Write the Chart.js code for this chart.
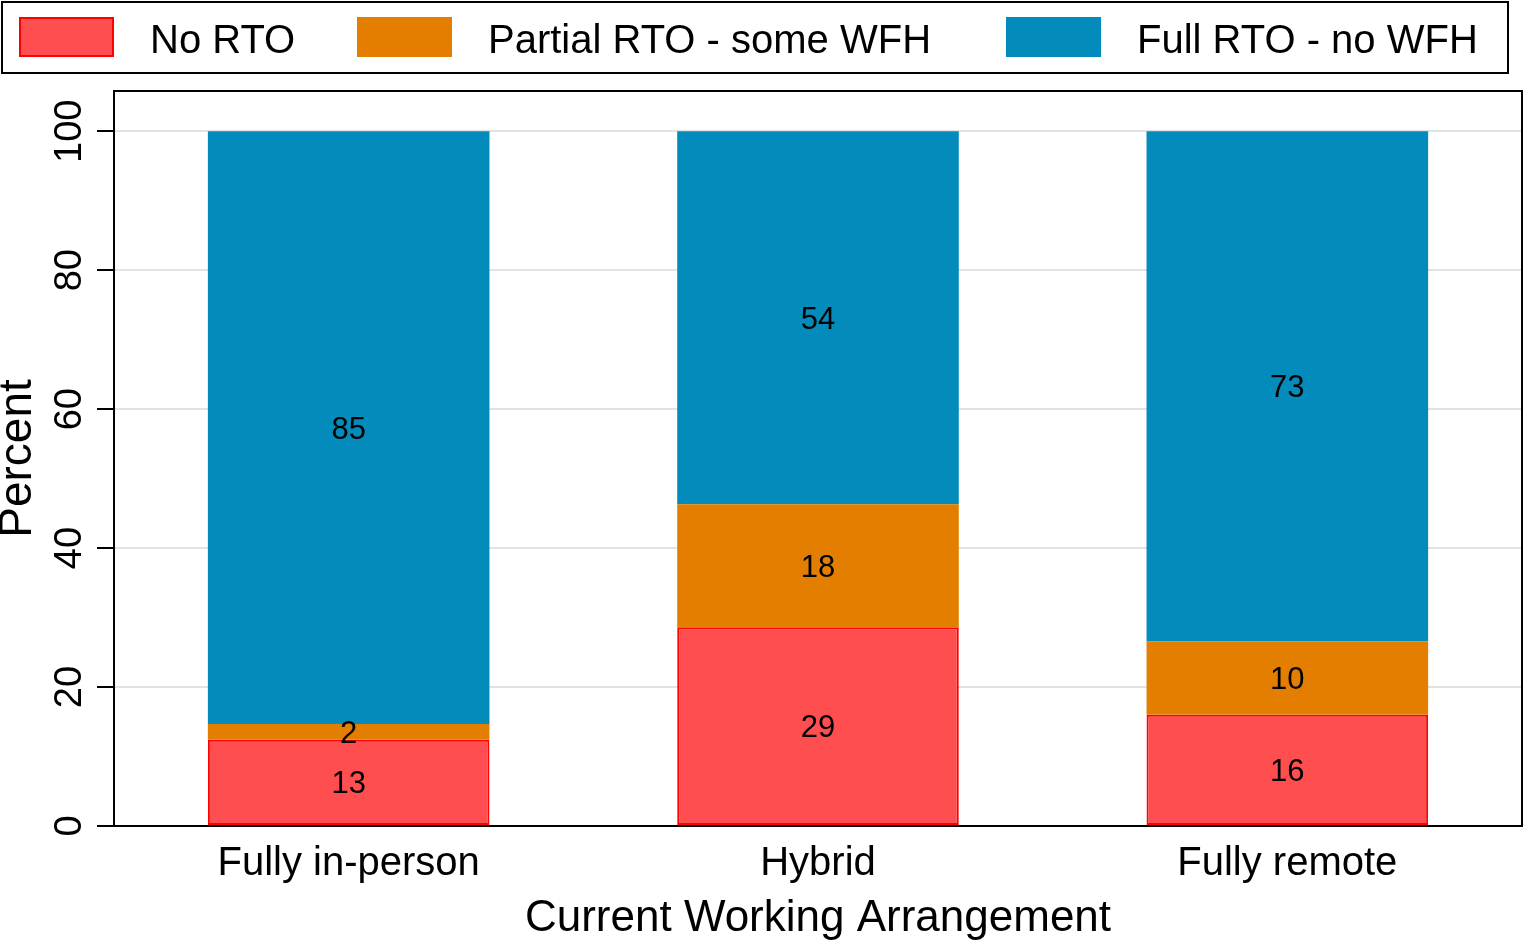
<!DOCTYPE html>
<html>
<head>
<meta charset="utf-8">
<script src="https://cdn.jsdelivr.net/npm/chart.js@4.4.1/dist/chart.umd.min.js"></script>
<style>
  html, body { margin: 0; padding: 0; background: #fff; }
  #wrap { width: 1524px; height: 943px; }
</style>
</head>
<body>
<div id="wrap"><canvas id="chart"></canvas></div>
<script>
const categories = ['Fully in-person', 'Hybrid', 'Fully remote'];
const seriesNames = ['No RTO', 'Partial RTO - some WFH', 'Full RTO - no WFH'];
const noRto = [12.4, 28.6, 16.0];
const partialRto = [2.3, 17.7, 10.6];
const fullRto = [85.3, 53.7, 73.4];
const noRtoLabels = ['13', '29', '16'];
const partialRtoLabels = ['2', '18', '10'];
const fullRtoLabels = ['85', '54', '73'];
const yTicks = [0, 20, 40, 60, 80, 100];

const FONT = '"Liberation Sans", Arial, Helvetica, sans-serif';

// legend drawn as a boxed row above the plot
const legendBox = {
    id: 'legendBox',
    afterDraw(chart) {
        const ctx = chart.ctx;
        const starts = [19, 357, 1006];
        ctx.save();
        ctx.strokeStyle = '#000';
        ctx.lineWidth = 2;
        ctx.strokeRect(2, 2, 1506, 71);
        ctx.font = '40px ' + FONT;
        ctx.textBaseline = 'alphabetic';
        ctx.fillStyle = '#000';
        chart.data.datasets.forEach((ds, i) => {
            const x = starts[i];
            ctx.fillStyle = ds.backgroundColor;
            ctx.fillRect(x, 17, 95, 40);
            if (ds.borderWidth) {
                ctx.strokeStyle = ds.borderColor;
                ctx.lineWidth = 2;
                ctx.strokeRect(x + 1, 18, 93, 38);
            }
            ctx.fillStyle = '#000';
            ctx.fillText(ds.label, x + 131, 53);
        });
        ctx.restore();
    }
};

// y tick labels rotated, frame around plot, values in bars
const extras = {
    id: 'extras',
    afterDatasetsDraw(chart) {
        const ctx = chart.ctx;
        const area = chart.chartArea;
        const y = chart.scales.y;
        ctx.save();
        ctx.strokeStyle = '#000';
        ctx.lineWidth = 2;
        ctx.strokeRect(area.left, area.top, area.right - area.left, area.bottom - area.top);

        ctx.fillStyle = '#000';
        ctx.font = '38px ' + FONT;
        ctx.textAlign = 'center';
        ctx.textBaseline = 'alphabetic';
        yTicks.forEach(v => {
            const py = y.getPixelForValue(v);
            ctx.save();
            ctx.translate(81, py);
            ctx.rotate(-Math.PI / 2);
            ctx.fillText(String(v), 0, 0);
            ctx.restore();
        });

        ctx.font = '31px ' + FONT;
        chart.data.datasets.forEach((ds, i) => {
            const meta = chart.getDatasetMeta(i);
            meta.data.forEach((bar, j) => {
                const cy = (bar.y + bar.base) / 2;
                ctx.fillText(ds.valueLabels[j], bar.x, cy + 11);
            });
        });
        ctx.restore();
    }
};

new Chart(document.getElementById('chart'), {
    type: 'bar',
    data: {
        labels: categories,
        datasets: [
            {
                label: seriesNames[0],
                data: noRto,
                valueLabels: noRtoLabels,
                backgroundColor: '#ff4e50',
                borderColor: '#ff0000',
                borderWidth: 2,
                borderSkipped: false
            },
            {
                label: seriesNames[1],
                data: partialRto,
                valueLabels: partialRtoLabels,
                backgroundColor: '#e37e00',
                borderWidth: 0
            },
            {
                label: seriesNames[2],
                data: fullRto,
                valueLabels: fullRtoLabels,
                backgroundColor: '#038bbb',
                borderWidth: 0
            }
        ]
    },
    options: {
        responsive: true,
        maintainAspectRatio: false,
        animation: false,
        layout: { padding: { top: 91, right: 2, left: 0, bottom: 0 } },
        datasets: { bar: { barPercentage: 0.6, categoryPercentage: 1 } },
        plugins: {
            legend: { display: false },
            tooltip: { enabled: false }
        },
        scales: {
            x: {
                stacked: true,
                grid: { display: false },
                border: { display: true, color: '#000', width: 2 },
                ticks: { color: '#000', padding: 6, font: { family: FONT, size: 40 } },
                title: {
                    display: true,
                    text: 'Current Working Arrangement',
                    color: '#000',
                    padding: 0,
                    font: { family: FONT, size: 44, lineHeight: 1.1 }
                },
                afterFit(scale) { scale.height = 117; }
            },
            y: {
                stacked: true,
                min: 0,
                max: 105.8,
                afterBuildTicks(scale) {
                    scale.ticks = yTicks.map(v => ({ value: v }));
                },
                grid: {
                    color: '#e2e2e2',
                    lineWidth: 2,
                    tickLength: 17,
                    tickColor: '#000',
                    tickWidth: 2
                },
                border: { display: true, color: '#000', width: 2 },
                ticks: { display: false },
                title: {
                    display: true,
                    text: 'Percent',
                    color: '#000',
                    padding: 0,
                    font: { family: FONT, size: 46, lineHeight: 0.8 }
                },
                afterFit(scale) { scale.width = 114; }
            }
        }
    },
    plugins: [legendBox, extras]
});
</script>
</body>
</html>
